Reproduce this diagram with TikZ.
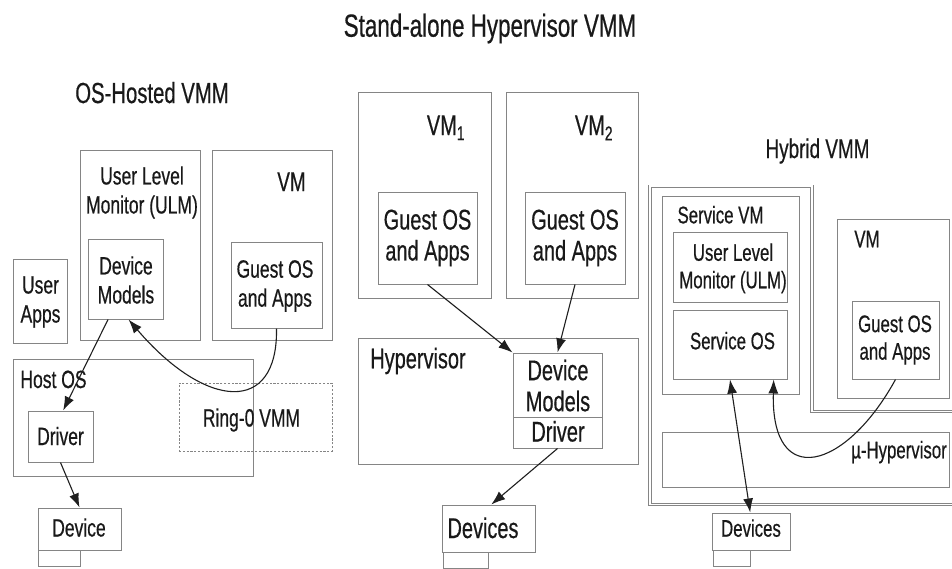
\documentclass[tikz,border=0pt]{standalone}
\usepackage{fontspec}
\newfontfamily\lab[FakeStretch=0.7,FakeBold=0.5]{Liberation Sans}
\usetikzlibrary{fit,arrows.meta,calc}
\definecolor{boxc}{gray}{0.52}
\definecolor{txtc}{gray}{0.1}
\definecolor{arrc}{gray}{0.12}
\begin{document}
\begin{tikzpicture}[x=1pt,y=-1pt,
  bx/.style={draw=boxc, line width=1pt, inner sep=0pt},
  dbx/.style={bx, dash pattern=on 2.2pt off 1.6pt},
  txt/.style={text=txtc, inner sep=0pt, align=center},
  fL/.style={txt, font={\lab\fontsize{25}{29}\selectfont}},
  fM/.style={txt, font={\lab\fontsize{28.5}{31}\selectfont}},
  fR/.style={txt, font={\lab\fontsize{24}{27.5}\selectfont}},
  tip/.tip={Latex[length=14pt,width=10pt]},
  arr/.style={draw=arrc, line width=1.1pt, -tip},
  darr/.style={draw=arrc, line width=1.1pt, tip-tip}]
\useasboundingbox[fill=white] (0,0) rectangle (952,568);

% ---------- titles ----------
\node[txt, font={\lab\fontsize{32}{36}\selectfont}, anchor=base] (title) at (490,36.7) {Stand-alone Hypervisor VMM};
\node[txt, font={\lab\fontsize{29}{33}\selectfont}, anchor=base] (tOS) at (152,103) {OS-Hosted VMM};
\node[txt, font={\lab\fontsize{27}{31}\selectfont}, anchor=base] (tHy) at (817.5,158) {Hybrid VMM};

% ---------- OS-hosted VMM ----------
\node[bx, fit={(80,150)(200,340)}] (ulmL) {};
\node[bx, fit={(212,150)(332,340)}] (vmL) {};
\node[bx, fit={(88,239)(163,319)}] (dmL) {};
\node[bx, fit={(231,242)(322,328)}] (goL) {};
\node[bx, fit={(13,259)(67,343)}] (uapps) {};
\node[bx, fit={(13,359)(253,476)}] (hostos) {};
\node[bx, fit={(28,411)(93,462)}] (drvL) {};
\node[dbx, fit={(179,383)(332,451)}] (ring0) {};
\node[bx, fit={(38,508)(121,550)}] (devL) {};
\node[bx, fit={(38,550)(80,566.5)}] (devLb) {};

\node[fL] (tulmL) at (142,192.5) {User Level\\Monitor (ULM)};
\node[fL, anchor=base, font={\lab\fontsize{27}{29}\selectfont}] (tvmL) at (291.5,191) {VM};
\node[fL] (tdmL) at (126,280) {Device\\Models};
\node[fL] (tgoL) at (275,286) {Guest OS\\and Apps};
\node[fL] (tua) at (40.5,302) {User\\Apps};
\node[fL, anchor=base] (thost) at (53.5,388) {Host OS};
\node[fL, anchor=base] (tdrvL) at (60.5,445) {Driver};
\node[fL, anchor=base] (tring) at (251.5,426.5) {Ring-0 VMM};
\node[fL, anchor=base] (tdevL) at (79,536.5) {Device};

\draw[arr] ($(dmL.south west)!0.27!(dmL.south east)$) -- ($(drvL.north west)!0.54!(drvL.north east)$);
\draw[arr] (goL.south) .. controls +(1.5,87) and +(77,90) .. ($(dmL.south west)!0.54!(dmL.south east)$);
\draw[arr] (drvL.south) -- (devL.north);

% ---------- Stand-alone hypervisor ----------
\node[bx, fit={(358,92)(491,298)}] (vm1) {};
\node[bx, fit={(506,92)(638,298)}] (vm2) {};
\node[bx, fit={(378,192)(477,284)}] (go1) {};
\node[bx, fit={(525,192)(625,284)}] (go2) {};
\node[bx, fit={(358,338)(638,464)}] (hyp) {};
\node[bx, fit={(513,353)(602,417)}] (dmM) {};
\node[bx, fit={(513,417)(602,448)}] (drvM) {};
\node[bx, fit={(442,505)(535,552)}] (devM) {};
\node[bx, fit={(443,552)(488,568)}] (devMb) {};

\node[fM, anchor=base] (tvm1) at (446,135) {VM\textsubscript{1}};
\node[fM, anchor=base] (tvm2) at (594,135) {VM\textsubscript{2}};
\node[fM] (tgo1) at (427.5,238) {Guest OS\\and Apps};
\node[fM] (tgo2) at (575,238) {Guest OS\\and Apps};
\node[fM, anchor=base] (thyp) at (418,368.3) {Hypervisor};
\node[fM] (tdmM) at (558,385.5) {Device\\Models};
\node[fM, anchor=base] (tdrvM) at (558,441.5) {Driver};
\node[fM, anchor=base] (tdevM) at (483,538) {Devices};

\draw[arr] (go1.south) -- (dmM.north west);
\draw[arr] (go2.south) -- (dmM.north);
\draw[arr] (drvM.south) -- ($(devM.north west)!0.53!(devM.north east)$);

% ---------- Hybrid VMM ----------
\draw[draw=boxc, line width=0.8pt, double=white, double distance=1.6pt]
  (965,411.5) -- (812,411.5) -- (812,186.2) -- (650,186.2) -- (650,504.5) -- (965,504.5);
\node[bx, fit={(662,196)(799,394)}] (svm) {};
\node[bx, fit={(673,232)(787,302)}] (ulmR) {};
\node[bx, fit={(673,310)(787,379)}] (sos) {};
\node[bx, fit={(837,219)(949,398)}] (vmR) {};
\node[bx, fit={(852,301)(939,379)}] (goR) {};
\node[bx, fit={(662,432)(949,487)}] (mu) {};
\node[bx, fit={(712,513)(790,550)}] (devR) {};
\node[bx, fit={(713,550)(750,566.5)}] (devRb) {};

\node[fR, anchor=base] (tsvm) at (720.5,223.3) {Service VM};
\node[fR] (tulmR) at (733,268.3) {User Level\\Monitor (ULM)};
\node[fR, anchor=base] (tsos) at (732.5,349.3) {Service OS};
\node[fR, anchor=base] (tvmR) at (867,247.3) {VM};
\node[fR] (tgoR) at (895,340) {Guest OS\\and Apps};
\node[fR, anchor=base] (tmu) at (899,458.3) {µ-Hypervisor};
\node[fR, anchor=base] (tdevR) at (751,536.7) {Devices};

\draw[darr] (sos.south) -- ($(devR.north west)!0.49!(devR.north east)$);
\draw[arr] (goR.south) .. controls +(-50,91) and +(-3,111) .. ($(sos.south west)!0.88!(sos.south east)$);
\end{tikzpicture}
\end{document}
